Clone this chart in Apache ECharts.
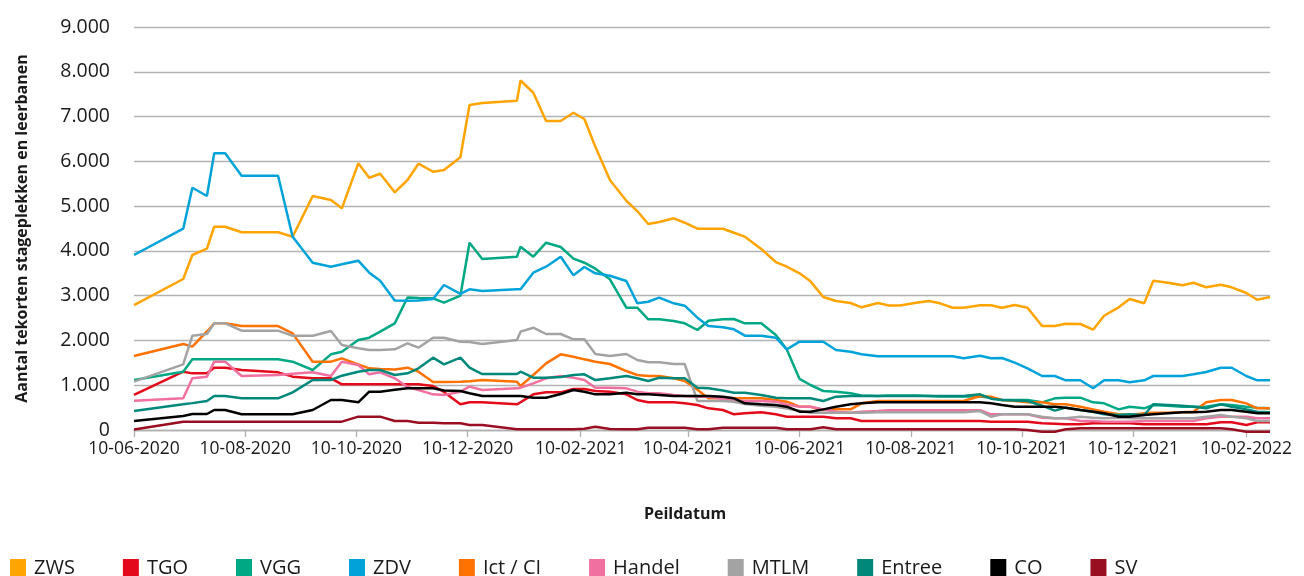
<!DOCTYPE html>
<html><head><meta charset="utf-8">
<script src="https://cdn.jsdelivr.net/npm/echarts@6/dist/echarts.min.js"></script>
<style>html,body{margin:0;padding:0;background:#fff}#c{width:1304px;height:576px}</style>
</head><body><div id="c"></div><script>
const dates = [
'2020-06-10','2020-07-07','2020-07-12','2020-07-20','2020-07-24','2020-07-30','2020-08-08','2020-08-28','2020-09-05','2020-09-16',
'2020-09-26','2020-10-02','2020-10-11','2020-10-17','2020-10-23','2020-10-31','2020-11-07','2020-11-13','2020-11-21','2020-11-27',
'2020-12-06','2020-12-11','2020-12-18','2021-01-06','2021-01-08','2021-01-15','2021-01-22','2021-01-30','2021-02-06','2021-02-12',
'2021-02-18','2021-02-26','2021-03-07','2021-03-13','2021-03-19','2021-03-25','2021-04-02','2021-04-08','2021-04-15','2021-04-21',
'2021-04-29','2021-05-05','2021-05-11','2021-05-20','2021-05-28','2021-06-03','2021-06-10','2021-06-16','2021-06-23','2021-06-30',
'2021-07-08','2021-07-14','2021-07-23','2021-07-29','2021-08-04','2021-08-13','2021-08-20','2021-08-26','2021-09-02','2021-09-08',
'2021-09-17','2021-09-23','2021-09-29','2021-10-06','2021-10-13','2021-10-21','2021-10-28','2021-11-03','2021-11-11','2021-11-18',
'2021-11-24','2021-12-02','2021-12-08','2021-12-16','2021-12-21','2021-12-29','2022-01-06','2022-01-12','2022-01-19','2022-01-27',
'2022-02-02','2022-02-10','2022-02-16','2022-02-23'];

const ZWS = [2790,3372,3908,4049,4540,4540,4415,4415,4317,5225,
5136,4950,5955,5634,5723,5308,5583,5947,5768,5806,
6090,7257,7302,7353,7805,7532,6900,6900,7085,6945,
6326,5583,5120,4890,4600,4645,4727,4629,4495,4495,
4495,4406,4317,4042,3751,3647,3499,3320,2970,2881,
2836,2740,2836,2780,2780,2843,2881,2829,2731,2731,
2785,2785,2731,2791,2731,2322,2322,2374,2367,2240,
2552,2740,2925,2829,3334,3289,3231,3289,3187,3245,
3187,3059,2910,2970];
const TGO = [782,1302,1265,1265,1392,1392,1340,1288,1191,1154,
1154,1020,1020,1020,1020,1020,1020,1020,983,850,
573,620,618,573,620,796,841,841,915,915,
871,856,796,670,618,618,618,595,558,484,
447,350,372,394,350,298,298,298,298,261,
261,201,201,201,201,201,201,201,201,201,
201,186,186,186,186,149,140,127,127,149,
149,149,149,127,127,127,127,127,127,171,
171,112,171,171];
const VGG = [1116,1302,1578,1578,1578,1578,1578,1578,1526,1340,
1690,1749,2010,2062,2196,2382,2960,2950,2941,2843,
2999,4183,3819,3870,4094,3870,4183,4087,3826,3736,
3602,3365,2731,2731,2472,2472,2434,2383,2233,2441,
2472,2479,2383,2383,2121,1800,1140,1005,871,855,
820,770,760,770,770,770,760,750,750,750,
750,722,670,670,670,618,707,722,722,618,
595,461,521,484,558,543,521,521,521,573,
558,521,499,484];
const ZDV = [3908,4495,5410,5225,6179,6179,5679,5679,4317,3736,
3647,3700,3781,3513,3334,2890,2887,2890,2925,3238,
3040,3141,3104,3141,3141,3513,3647,3870,3454,3640,
3499,3446,3327,2829,2865,2955,2829,2776,2508,2322,
2293,2248,2106,2106,2061,1802,1972,1972,1972,1786,
1749,1690,1646,1646,1646,1646,1646,1646,1646,1601,
1659,1601,1608,1503,1378,1206,1206,1110,1110,931,
1110,1110,1065,1110,1206,1206,1206,1244,1295,1391,
1391,1206,1110,1110];
const ICT = [1652,1920,1861,2200,2382,2382,2322,2322,2158,1526,
1526,1600,1466,1377,1362,1350,1392,1303,1070,1070,
1079,1090,1116,1079,983,1228,1489,1690,1637,1578,
1526,1474,1317,1228,1206,1206,1154,1094,900,707,
707,707,707,707,670,633,521,521,447,461,
461,595,648,648,648,648,648,648,648,648,
759,744,670,648,618,618,573,573,521,461,
409,350,335,372,387,387,394,409,618,670,
670,595,484,484];
const HANDEL = [655,707,1154,1191,1526,1526,1206,1228,1258,1288,
1206,1526,1450,1243,1288,1154,960,893,796,781,
856,968,893,930,945,1042,1154,1206,1168,1116,
945,945,930,856,819,819,781,759,744,744,
690,670,648,648,633,570,521,521,460,409,
387,409,424,440,440,440,440,440,440,440,
440,350,350,350,350,275,261,261,201,201,
186,186,186,201,201,201,201,201,261,298,
298,298,261,261];
const MTLM = [1079,1466,2106,2144,2382,2382,2218,2218,2106,2106,
2211,1898,1824,1786,1786,1801,1935,1838,2062,2062,
1972,1965,1920,2010,2196,2285,2144,2144,2025,2025,
1697,1653,1697,1563,1512,1512,1474,1474,648,650,
650,630,580,543,521,480,430,387,387,387,
387,387,394,394,394,394,394,394,394,394,
424,298,350,350,350,298,261,261,298,275,
261,275,261,261,261,261,261,261,298,335,
298,261,201,201];
const ENTREE = [424,573,600,648,759,759,707,707,841,1116,
1116,1213,1302,1340,1340,1228,1265,1377,1615,1467,
1615,1391,1250,1250,1302,1168,1168,1183,1228,1243,
1116,1154,1206,1154,1094,1168,1154,1154,945,930,
880,834,834,781,722,707,707,707,648,744,
759,759,759,759,759,759,759,759,759,759,
796,700,670,660,648,543,432,499,447,409,
350,335,350,335,573,558,543,521,484,573,
521,461,409,394];
const CO = [201,313,357,357,447,447,350,350,350,447,
670,670,618,856,856,900,931,931,931,880,
871,819,759,759,759,722,722,804,893,856,
796,796,834,796,796,781,759,759,759,759,
744,707,595,573,558,521,409,409,461,521,
573,595,618,618,618,618,618,618,618,618,
618,595,558,521,521,521,521,499,447,409,
372,298,298,335,350,372,394,394,409,447,
447,409,372,372];
const SV = [10,186,186,186,186,186,186,186,186,186,
186,186,298,298,298,201,201,164,164,149,
149,112,112,15,15,15,15,15,15,30,
74,20,15,15,52,52,52,52,15,15,
52,52,52,52,52,15,15,15,60,15,
15,15,15,15,15,15,15,15,15,15,
15,15,15,15,0,-37,-37,15,37,37,
37,37,37,37,37,37,37,37,37,37,
15,-37,-37,-37];

const xTicks = ['2020-06-10','2020-08-10','2020-10-10','2020-12-10','2021-02-10','2021-04-10','2021-06-10','2021-08-10','2021-10-10','2021-12-10','2022-02-10'];
const yName = 'Aantal tekorten stageplekken en leerbanen';
const xName = 'Peildatum';

const defs = [
  {name:'ZWS', data:ZWS, color:'#FFA400'},
  {name:'TGO', data:TGO, color:'#E30A1B'},
  {name:'VGG', data:VGG, color:'#00A884'},
  {name:'ZDV', data:ZDV, color:'#00A3D9'},
  {name:'Ict / CI', data:ICT, color:'#FF7200'},
  {name:'Handel', data:HANDEL, color:'#F0719F'},
  {name:'MTLM', data:MTLM, color:'#A3A3A3'},
  {name:'Entree', data:ENTREE, color:'#00897B'},
  {name:'CO', data:CO, color:'#000000'},
  {name:'SV', data:SV, color:'#9A0E21'}
];

function ts(s){const p=s.split('-');return new Date(+p[0],+p[1]-1,+p[2]).getTime();}
function pad(n){return (n<10?'0':'')+n;}
function fmtDate(v){const d=new Date(v);return pad(d.getDate())+'-'+pad(d.getMonth()+1)+'-'+d.getFullYear();}
function fmtNum(v){return String(v).replace(/\B(?=(\d{3})+(?!\d))/g,'.');}

const xTickTs = xTicks.map(ts);
const chart = echarts.init(document.getElementById('c'));
const series = defs.map(s=>({
  type:'line', name:s.name,
  data: dates.map((d,i)=>[ts(d), s.data[i]]),
  symbol:'none', showSymbol:false, clip:false,
  lineStyle:{width:2.5,color:s.color},
  itemStyle:{color:s.color},
  emphasis:{disabled:true}
}));
chart.setOption({
  animation:false,
  textStyle:{fontFamily:'Open Sans'},
  grid:{left:134,right:34,top:27,bottom:146,containLabel:false},
  legend:{left:10, top:558, padding:0, itemWidth:16, itemHeight:18, itemGap:48, icon:'rect',
    textStyle:{fontSize:20,color:'#1a1a1a',fontFamily:'Open Sans',padding:[0,0,0,3]},
    data:defs.map(d=>d.name)},
  xAxis:{type:'value', min:ts(dates[0]), max:ts(dates[dates.length-1]), scale:true,
    name:xName, nameLocation:'middle', nameGap:76,
    nameTextStyle:{fontSize:16,fontWeight:'bold',color:'#1a1a1a',fontFamily:'Open Sans',padding:[0,34,0,0]},
    axisLine:{show:true,lineStyle:{color:'#b0b0b0',width:1.3}},
    axisTick:{show:true, customValues:xTickTs, length:7, lineStyle:{color:'#b0b0b0',width:1.3}},
    axisLabel:{customValues:xTickTs, formatter:fmtDate, fontSize:17.5, color:'#1a1a1a', margin:10, fontFamily:'Open Sans'},
    splitLine:{show:false}, minorTick:{show:false}},
  yAxis:{type:'value', min:0, max:9000, interval:1000,
    name:yName, nameLocation:'middle', nameGap:104,
    nameTextStyle:{fontSize:16,fontWeight:'bold',color:'#1a1a1a',fontFamily:'Open Sans'},
    axisLine:{show:false}, axisTick:{show:false},
    axisLabel:{formatter:fmtNum, fontSize:19.5, color:'#1a1a1a', margin:24, fontFamily:'Open Sans'},
    splitLine:{lineStyle:{color:'#b3b3b3',width:1.3}}},
  series
});
</script></body></html>
